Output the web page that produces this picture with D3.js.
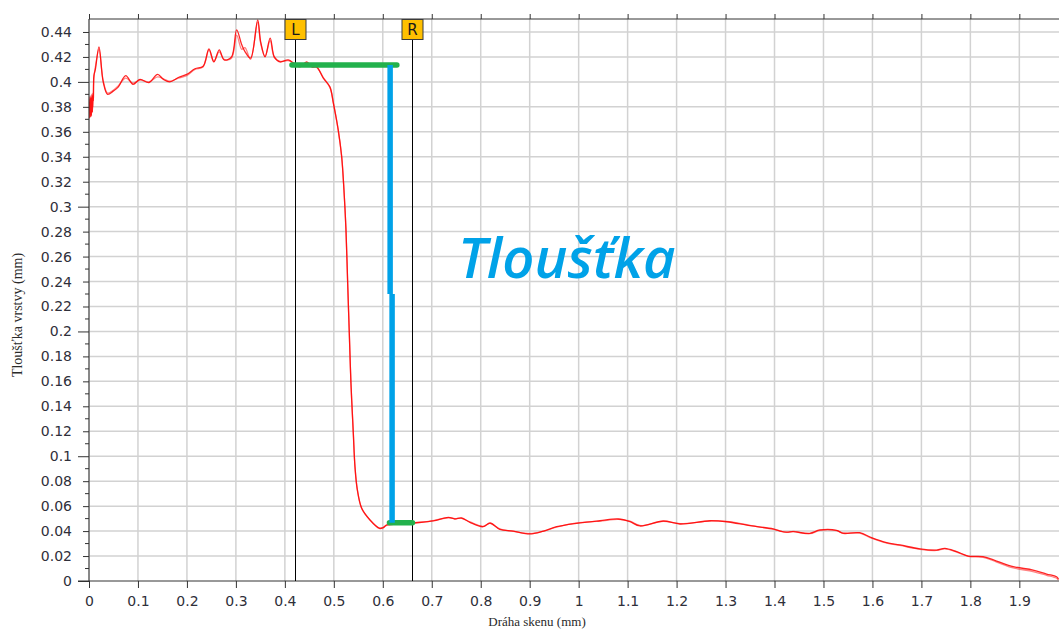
<!DOCTYPE html>
<html>
<head>
<meta charset="utf-8">
<script src="https://cdn.jsdelivr.net/npm/d3@7"></script>
<style>
  body { margin: 0; background: #fff; }
  svg { display: block; }
</style>
</head>
<body>
<div id="chart"></div>
<script>

// scan positions (mm) and the two measured traces (mm)
var scanX = [0, 0.001, 0.002, 0.003, 0.004, 0.005, 0.006, 0.007, 0.008, 0.009, 0.01, 0.013, 0.0204, 0.029, 0.038, 0.05, 0.06, 0.075, 0.09, 0.104, 0.1225, 0.14, 0.152, 0.165, 0.1825, 0.1995, 0.2165, 0.233, 0.245, 0.255, 0.266, 0.276, 0.291, 0.3015, 0.312, 0.3185, 0.33, 0.3445, 0.3505, 0.3595, 0.37, 0.3785, 0.39, 0.407, 0.421, 0.431, 0.4445, 0.455, 0.465, 0.4785, 0.492, 0.499, 0.509, 0.516, 0.5207, 0.5248, 0.5283, 0.5316, 0.535, 0.5398, 0.5432, 0.548, 0.557, 0.5738, 0.593, 0.6, 0.608, 0.635, 0.666, 0.703, 0.734, 0.747, 0.761, 0.778, 0.805, 0.819, 0.839, 0.8665, 0.9005, 0.928, 0.955, 0.996, 1.0435, 1.081, 1.105, 1.125, 1.1728, 1.207, 1.268, 1.302, 1.35, 1.3974, 1.411, 1.4247, 1.438, 1.472, 1.4928, 1.5268, 1.54, 1.574, 1.598, 1.629, 1.656, 1.697, 1.731, 1.748, 1.772, 1.7956, 1.826, 1.8536, 1.8875, 1.928, 1.9557, 1.976, 1.98]

var traceA = [0.384, 0.371, 0.388, 0.372, 0.387, 0.373, 0.39, 0.376, 0.389, 0.385, 0.405, 0.41, 0.428, 0.4, 0.39, 0.3928, 0.396, 0.405, 0.398, 0.402, 0.3995, 0.406, 0.402, 0.4, 0.4035, 0.406, 0.4105, 0.4125, 0.4265, 0.416, 0.4257, 0.4176, 0.42, 0.4417, 0.4297, 0.4243, 0.419, 0.4497, 0.4323, 0.42, 0.435, 0.42, 0.416, 0.4176, 0.414, 0.412, 0.416, 0.412, 0.412, 0.403, 0.396, 0.383, 0.3615, 0.34, 0.3134, 0.2814, 0.2386, 0.1986, 0.1585, 0.1184, 0.0916, 0.073, 0.0583, 0.0489, 0.0422, 0.0425, 0.0449, 0.0455, 0.0467, 0.0481, 0.051, 0.0497, 0.0505, 0.047, 0.0435, 0.0465, 0.0414, 0.04, 0.0377, 0.04, 0.0435, 0.0462, 0.0483, 0.0497, 0.0475, 0.0441, 0.0481, 0.0457, 0.0483, 0.0475, 0.0443, 0.0417, 0.04, 0.0392, 0.0395, 0.0382, 0.0409, 0.0406, 0.0382, 0.0387, 0.0347, 0.0307, 0.0289, 0.0257, 0.0248, 0.0262, 0.0235, 0.02, 0.0195, 0.016, 0.0115, 0.0088, 0.0056, 0.0034, 0.0015]

var traceB = [0.379, 0.386, 0.374, 0.389, 0.372, 0.388, 0.375, 0.391, 0.38, 0.392, 0.403, 0.412, 0.426, 0.401, 0.391, 0.3935, 0.397, 0.403, 0.399, 0.4015, 0.4, 0.404, 0.4025, 0.4005, 0.403, 0.405, 0.41, 0.412, 0.4255, 0.4165, 0.424, 0.418, 0.419, 0.4375, 0.426, 0.4275, 0.418, 0.448, 0.431, 0.4205, 0.433, 0.4195, 0.4165, 0.417, 0.4145, 0.4125, 0.4155, 0.4125, 0.4115, 0.4035, 0.3955, 0.3835, 0.361, 0.3405, 0.313, 0.282, 0.238, 0.199, 0.158, 0.1185, 0.0915, 0.0735, 0.058, 0.049, 0.0425, 0.0428, 0.0446, 0.0458, 0.0465, 0.0484, 0.0507, 0.05, 0.0502, 0.0474, 0.0438, 0.0462, 0.0417, 0.0398, 0.038, 0.0398, 0.0432, 0.0465, 0.048, 0.0494, 0.0479, 0.0445, 0.0478, 0.046, 0.048, 0.0478, 0.0446, 0.0414, 0.0402, 0.0389, 0.0397, 0.0379, 0.0405, 0.0403, 0.0385, 0.0384, 0.0343, 0.0304, 0.0285, 0.0254, 0.0245, 0.0258, 0.0232, 0.0198, 0.019, 0.0152, 0.0105, 0.0076, 0.0046, 0.0022, 0.0008]

var yTickValues = [0, 0.02, 0.04, 0.06, 0.08, 0.1, 0.12, 0.14, 0.16, 0.18, 0.2, 0.22, 0.24, 0.26, 0.28, 0.3, 0.32, 0.34, 0.36, 0.38, 0.4, 0.42, 0.44]
var xTickValues = [0, 0.1, 0.2, 0.3, 0.4, 0.5, 0.6, 0.7, 0.8, 0.9, 1, 1.1, 1.2, 1.3, 1.4, 1.5, 1.6, 1.7, 1.8, 1.9]

// cursors and the measured levels
var cursorNames = ["L", "R"]
var cursorX = [0.42, 0.66]
var levelTop = 0.4135, levelBottom = 0.0467
var topLevelX = [0.4145, 0.6287]
var bottomLevelX = [0.6136, 0.6606]
var thicknessX = [0.615, 0.619]
var thicknessBreak = 0.23
var annotation = "Tloušťka"

var width = 1059, height = 630
var margin = {top: 19, right: 0, bottom: 49, left: 89}
var w = width - margin.left - margin.right
var h = height - margin.top - margin.bottom

var svg = d3.select("#chart").append("svg")
  .attr("width", width)
  .attr("height", height)

var g = svg.append("g")
  .attr("transform", "translate(" + margin.left + "," + margin.top + ")")

var x = d3.scaleLinear().domain([0, 1.981]).range([0, w])
var y = d3.scaleLinear().domain([0, 0.4504]).range([h, 0])

var axisColor = "#333"
var gridColor = "#d2d2d2"

// grid
g.append("g").selectAll("line").data(xTickValues).enter().append("line")
  .attr("x1", d => x(d)).attr("x2", d => x(d))
  .attr("y1", 0).attr("y2", h)
  .attr("stroke", gridColor).attr("stroke-width", 1.5)

g.append("g").selectAll("line").data(yTickValues.slice(1)).enter().append("line")
  .attr("x1", 0).attr("x2", w)
  .attr("y1", d => y(d)).attr("y2", d => y(d))
  .attr("stroke", gridColor).attr("stroke-width", 1.5)

// clip for traces
svg.append("defs").append("clipPath").attr("id", "plot")
  .append("rect").attr("width", w).attr("height", h + 1).attr("y", -1)

var line = d3.line()
  .x((d, i) => x(scanX[i]))
  .y(d => y(d))
  .curve(d3.curveCatmullRom.alpha(0.5))

var traces = g.append("g").attr("clip-path", "url(#plot)")
traces.append("path").datum(traceB)
  .attr("fill", "none").attr("stroke", "#ff3030").attr("stroke-opacity", 0.6)
  .attr("stroke-width", 1.3).attr("d", line)
traces.append("path").datum(traceA)
  .attr("fill", "none").attr("stroke", "#ff0000").attr("stroke-opacity", 0.85)
  .attr("stroke-width", 1.3).attr("d", line)

// axes
var yAxis = d3.axisLeft(y).tickValues(yTickValues)
  .tickSize(6).tickPadding(5)
  .tickFormat(d => d3.format("~g")(+d.toFixed(2)))
var ya = g.append("g").call(yAxis)
ya.select(".domain").remove()
ya.append("line").attr("x1", 0).attr("x2", 0).attr("y1", 0).attr("y2", h).attr("stroke", axisColor)
ya.selectAll(".tick line").attr("stroke", axisColor)
  .attr("x2", d => (Math.round(d * 100) % 10 === 0) ? -11 : -6)
ya.selectAll(".tick text").attr("x", -17)
  .attr("font-family", "DejaVu Sans").attr("font-size", 14).attr("fill", "#2f2f3a")

// minor y ticks
g.append("g").selectAll("line").data(d3.range(1, 45, 2).map(d => d / 100)).enter().append("line")
  .attr("x1", -4).attr("x2", 0)
  .attr("y1", d => y(d)).attr("y2", d => y(d))
  .attr("stroke", axisColor)

var xAxis = d3.axisBottom(x).tickValues(xTickValues)
  .tickSize(7).tickPadding(8)
  .tickFormat(d => d3.format("~g")(+d.toFixed(1)))
var xa = g.append("g").attr("transform", "translate(0," + h + ")").call(xAxis)
xa.select(".domain").remove()
xa.append("line").attr("x1", -11).attr("x2", w).attr("stroke", axisColor)
xa.selectAll(".tick line").attr("stroke", axisColor)
xa.selectAll(".tick text")
  .attr("font-family", "DejaVu Sans").attr("font-size", 14).attr("fill", "#2f2f3a")

// top border with ticks
var xt = g.append("g").call(d3.axisTop(x).tickValues(xTickValues).tickSize(5).tickFormat(""))
xt.select(".domain").remove()
xt.append("line").attr("x1", 0).attr("x2", w).attr("stroke", axisColor)
xt.selectAll(".tick line").attr("stroke", axisColor)

// axis titles
svg.append("text")
  .attr("x", 537).attr("y", 626)
  .attr("text-anchor", "middle")
  .attr("font-family", "Liberation Serif").attr("font-size", 13).attr("fill", "#2a2a2a")
  .text("Dráha skenu (mm)")

svg.append("text")
  .attr("transform", "translate(22,315) rotate(-90)")
  .attr("text-anchor", "middle")
  .attr("font-family", "Liberation Serif").attr("font-size", 14).attr("fill", "#2a2a2a")
  .text("Tloušťka vrstvy (mm)")

// cursors
var cur = g.append("g").selectAll("g").data(cursorX).enter().append("g")
  .attr("transform", d => "translate(" + Math.round(x(d)) + ",0)")
cur.append("line").attr("x1", 0.5).attr("x2", 0.5).attr("y1", 20).attr("y2", h)
  .attr("stroke", "#000").attr("stroke-width", 1)
cur.append("rect").attr("x", -10).attr("y", 0.5).attr("width", 21).attr("height", 20)
  .attr("fill", "#ffc000").attr("stroke", "#3a3a3a").attr("stroke-width", 1)
cur.append("text").attr("x", 0.5).attr("y", 16)
  .attr("text-anchor", "middle")
  .attr("font-family", "DejaVu Sans").attr("font-size", 15).attr("fill", "#1a1a1a")
  .text((d, i) => cursorNames[i])

// thickness marks
var green = "#22b14c", blue = "#00a2e8"
g.append("line")
  .attr("x1", x(topLevelX[0])).attr("x2", x(topLevelX[1]))
  .attr("y1", y(levelTop)).attr("y2", y(levelTop))
  .attr("stroke", green).attr("stroke-width", 5.5).attr("stroke-linecap", "round")
g.append("line")
  .attr("x1", x(bottomLevelX[0])).attr("x2", x(bottomLevelX[1]))
  .attr("y1", y(levelBottom)).attr("y2", y(levelBottom))
  .attr("stroke", green).attr("stroke-width", 5.5).attr("stroke-linecap", "round")
g.append("line")
  .attr("x1", x(thicknessX[0])).attr("x2", x(thicknessX[0]))
  .attr("y1", y(levelTop)).attr("y2", y(thicknessBreak))
  .attr("stroke", blue).attr("stroke-width", 5.5)
g.append("line")
  .attr("x1", x(thicknessX[1])).attr("x2", x(thicknessX[1]))
  .attr("y1", y(thicknessBreak)).attr("y2", y(levelBottom))
  .attr("stroke", blue).attr("stroke-width", 5.5)

svg.append("text")
  .attr("x", 458).attr("y", 278)
  .attr("font-family", "Open Sans").attr("font-style", "italic").attr("font-weight", 600)
  .attr("font-size", 56).attr("fill", blue)
  .text(annotation)

</script>
</body>
</html>
